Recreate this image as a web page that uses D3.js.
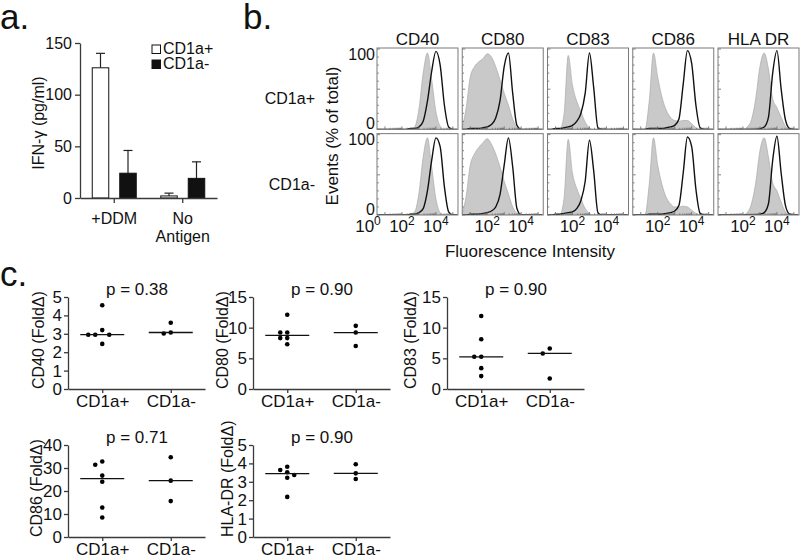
<!DOCTYPE html>
<html><head><meta charset="utf-8">
<script src="https://cdn.jsdelivr.net/npm/d3@7"></script>
<style>
body{margin:0;background:#fff}
svg{display:block}
text{font-family:"Liberation Sans",Arial,Helvetica,sans-serif;fill:#111}
</style>
</head><body>
<svg id="c" width="800" height="559"></svg>
<script>
// ---------------- DATA ----------------
// Panel a
const ifnGroups = ["+DDM", "No Antigen"];
const ifnSeries = ["CD1a+", "CD1a-"];
const ifnPosMean = [126, 2];
const ifnPosErr  = [14, 2.7];
const ifnNegMean = [24, 19];
const ifnNegErr  = [22, 16];
const ifnTicks = [0, 50, 100, 150];

// Panel b
const histMarkers = ["CD40", "CD80", "CD83", "CD86", "HLA DR"];
const histRows = ["CD1a+", "CD1a-"];
const histLogBins = [0.5,0.75,1,1.25,1.5,1.75,2,2.25,2.5,2.75,3,3.25,3.5,3.75,4,4.25,4.5,4.75,5,5.25];
const histYTicks = [0, 100];
const histGrayRow1 = [
  [0,0,0,0,0,0,0,0,0,3,25,70,95,62,22,4,0,0,0,0],
  [0,25,65,78,84,88,94,90,78,62,45,30,13,2,0,0,0,0,0,0],
  [0,0,0,0,18,92,55,35,22,9,2,0,0,0,0,0,0,0,0,0],
  [0,0,0,0,35,95,65,40,24,15,11,10,11,11,7,2,0,0,0,0],
  [0,0,0,0,0,0,0,3,12,38,78,95,75,38,27,15,4,0,0,0]
];
const histBlackRow1 = [
  [0,0,0,0,0,0,0,0,1,1,3,10,35,72,97,80,30,3,0,0],
  [0,0,1,1,1,2,3,6,14,35,78,95,45,5,0,0,0,0,0,0],
  [0,0,1,1,2,3,5,10,20,45,95,52,2,0,0,0,0,0,0,0],
  [0,0,0,0,1,1,1,1,2,3,5,13,56,98,82,30,2,0,0,0],
  [0,0,0,0,0,0,0,0,0,0,1,3,15,70,98,50,12,1,0,0]
];
const histGrayRow2 = [
  [0,0,0,0,0,0,0,0,1,4,27,72,96,60,20,3,0,0,0,0],
  [0,22,62,76,84,90,95,88,76,60,42,26,10,2,0,0,0,0,0,0],
  [0,0,0,0,20,94,52,33,20,8,2,0,0,0,0,0,0,0,0,0],
  [0,0,0,0,38,96,62,38,22,14,10,10,11,10,6,2,0,0,0,0],
  [0,0,0,0,0,0,0,3,14,40,80,96,72,40,30,16,4,0,0,0]
];
const histBlackRow2 = [
  [0,0,0,0,0,0,0,0,1,1,3,8,30,68,96,85,35,4,0,0],
  [0,0,1,1,1,2,3,5,10,25,62,96,60,8,0,0,0,0,0,0],
  [0,0,1,1,2,3,4,8,18,42,93,55,3,0,0,0,0,0,0,0],
  [0,0,0,0,1,1,1,1,2,3,5,12,52,97,85,32,2,0,0,0],
  [0,0,0,0,0,0,0,0,0,0,1,3,14,68,98,52,12,1,0,0]
];

// Panel c
const dotGroups = ["CD1a+", "CD1a-"];
const cd40Pos = [4.55, 3.2, 2.95, 2.95, 2.95, 2.45];
const cd40Neg = [3.6, 3.07, 3.02];
const cd80Pos = [12.1, 9.2, 9.2, 8.3, 8.3, 7.3];
const cd80Neg = [10.3, 9.2, 7.0];
const cd83Pos = [11.9, 8.1, 5.25, 5.25, 3.4, 2.1];
const cd83Neg = [6.6, 5.8, 1.7];
const cd86Pos = [32.8, 31.4, 26.7, 24.0, 12.8, 8.5];
const cd86Neg = [34.7, 24.5, 15.6];
const hlaPos = [3.82, 3.64, 3.52, 3.37, 3.22, 2.18];
const hlaNeg = [3.95, 3.46, 3.15];
const cd40Ticks = [0,1,2,3,4,5];
const cd80Ticks = [0,5,10,15];
const cd83Ticks = [0,5,10,15];
const cd86Ticks = [0,10,20,30,40];
const hlaTicks = [0,1,2,3,4,5];
const pValues = ["0.38", "0.90", "0.90", "0.71", "0.90"];

// ---------------- DRAW ----------------
const FF = '"Liberation Sans",Arial,Helvetica,sans-serif';
const svg = d3.select("#c");
const AX = "#3a3a3a";

function styleAxis(g, fs) {
  g.attr("font-family", FF);
  g.select(".domain").attr("stroke", AX).attr("stroke-width", 1.3);
  g.selectAll(".tick line").attr("stroke", AX).attr("stroke-width", 1.3);
  g.selectAll(".tick text").attr("font-size", fs || 16).attr("fill", "#111");
}

// panel letters
[["a.", 0, 29], ["b.", 243, 29], ["c.", 0, 286]].forEach(d => {
  svg.append("text").attr("x", d[1]).attr("y", d[2]).attr("font-size", 35).text(d[0]);
});

// ---------- Panel a ----------
{
  const g = svg.append("g");
  const y = d3.scaleLinear().domain([0, 150]).range([198, 43]);
  const x = d3.scaleBand().domain(ifnGroups).range([80, 217]);
  const xi = d3.scaleBand().domain(ifnSeries).range([-22, 22]).paddingInner(0.4);
  const means = [ifnPosMean, ifnNegMean];
  const errs = [ifnPosErr, ifnNegErr];
  const fills = ["#fff", "#111"];

  ifnSeries.forEach((s, si) => {
    ifnGroups.forEach((grp, gi) => {
      const cx = x(grp) + x.bandwidth() / 2 + xi(s);
      const v = means[si][gi], e = errs[si][gi];
      const mid = cx + xi.bandwidth() / 2;
      g.append("line").attr("x1", mid).attr("x2", mid).attr("y1", y(v)).attr("y2", y(v + e))
        .attr("stroke", "#222").attr("stroke-width", 1.2);
      g.append("line").attr("x1", mid - 4.5).attr("x2", mid + 4.5).attr("y1", y(v + e)).attr("y2", y(v + e))
        .attr("stroke", "#222").attr("stroke-width", 1.2);
      g.append("rect").attr("x", cx).attr("width", xi.bandwidth())
        .attr("y", y(v)).attr("height", y(0) - y(v))
        .attr("fill", fills[si]).attr("stroke", "#111").attr("stroke-width", 1);
    });
  });

  g.append("g").attr("transform", "translate(80,0)")
    .call(d3.axisLeft(y).tickValues(ifnTicks).tickSize(5).tickSizeOuter(0).tickPadding(3))
    .call(a => styleAxis(a, 16));
  g.append("g").attr("transform", "translate(0,198)")
    .call(d3.axisBottom(x).tickSize(5).tickSizeOuter(0).tickFormat(""))
    .call(a => styleAxis(a, 16));

  ifnGroups.forEach(grp => {
    const cx = x(grp) + x.bandwidth() / 2;
    const words = grp === "No Antigen" ? ["No", "Antigen"] : [grp];
    const t = g.append("text").attr("text-anchor", "middle").attr("font-size", 16);
    words.forEach((w, i) => t.append("tspan").attr("x", cx).attr("y", 224 + i * 18).text(w));
  });

  g.append("text").attr("transform", "translate(38,123) rotate(-90)")
    .attr("text-anchor", "middle").attr("dy", "0.35em").attr("font-size", 16).text("IFN-γ (pg/ml)");

  ifnSeries.forEach((s, si) => {
    g.append("rect").attr("x", 152).attr("y", 45 + si * 15).attr("width", 8.5).attr("height", 8.5)
      .attr("fill", fills[si]).attr("stroke", "#111").attr("stroke-width", 1);
    g.append("text").attr("x", 163).attr("y", 54 + si * 15).attr("font-size", 16).text(s);
  });
}

// ---------- Panel b ----------
{
  const g = svg.append("g");
  const px = d3.scaleBand().domain(histMarkers).range([377, 799]).paddingInner(0.05);
  const py = d3.scaleBand().domain(histRows).range([48, 215]).paddingInner(0.05);
  const grays = [histGrayRow1, histGrayRow2];
  const blacks = [histBlackRow1, histBlackRow2];

  histRows.forEach((row, ri) => {
    const top = py(row), bot = py(row) + py.bandwidth();
    const y = d3.scaleLinear().domain([0, 100]).range([bot, top + 1]);
    histMarkers.forEach((m, mi) => {
      const left = px(m), right = px(m) + px.bandwidth();
      const x = d3.scaleLog().domain([Math.pow(10, 0.53), Math.pow(10, 5.3)]).range([left, right]);
      const cid = "clip" + ri + "_" + mi;
      g.append("clipPath").attr("id", cid).append("rect")
        .attr("x", left).attr("y", top).attr("width", right - left).attr("height", bot - top);
      const pg = g.append("g").attr("clip-path", "url(#" + cid + ")");
      const pts = histLogBins.map((b, i) => [Math.pow(10, b), grays[ri][mi][i]]);
      const ptsB = histLogBins.map((b, i) => [Math.pow(10, b), blacks[ri][mi][i]]);
      pg.append("path").datum(pts)
        .attr("d", d3.area().x(d => x(d[0])).y0(bot).y1(d => y(d[1])).curve(d3.curveMonotoneX))
        .attr("fill", "#c9c9c9").attr("stroke", "#a9a9a9").attr("stroke-width", 0.7);
      pg.append("path").datum(ptsB)
        .attr("d", d3.line().x(d => x(d[0])).y(d => y(d[1])).curve(d3.curveMonotoneX))
        .attr("fill", "none").attr("stroke", "#111").attr("stroke-width", 1.4);

      const tg = g.append("g").attr("stroke", "#666").attr("stroke-width", 0.8);
      d3.range(0, 101, 10).forEach(v => {
        tg.append("line").attr("x1", left).attr("x2", left + (v % 50 === 0 ? 3 : 1.8))
          .attr("y1", y(v)).attr("y2", y(v));
      });
      [1, 2, 3, 4, 5].forEach(dec => {
        [1, 2, 3, 4, 5, 6, 7, 8, 9].forEach(k => {
          const v = k * Math.pow(10, dec);
          if (v < x.domain()[0] || v > x.domain()[1]) return;
          const xx = x(v);
          tg.append("line").attr("x1", xx).attr("x2", xx).attr("y1", bot).attr("y2", bot - (k === 1 ? 3 : 1.6));
        });
      });

      g.append("rect").attr("x", left).attr("y", top).attr("width", right - left).attr("height", bot - top)
        .attr("fill", "none").attr("stroke", "#7a7a7a").attr("stroke-width", 1);

      if (ri === 0) {
        g.append("text").attr("x", (left + right) / 2).attr("y", 45).attr("text-anchor", "middle")
          .attr("font-size", 17).text(m);
      }
      if (ri === histRows.length - 1) {
        const decs = mi === 0 ? [0, 2, 4] : [2, 4];
        decs.forEach(dd => {
          const t = g.append("text").attr("x", x(Math.pow(10, dd))).attr("y", 232)
            .attr("text-anchor", "middle").attr("font-size", 17);
          t.append("tspan").text("10");
          t.append("tspan").attr("dy", -7).attr("font-size", 12).text(dd);
        });
      }
    });
    g.append("text").attr("x", 375).attr("y", top + 6).attr("dy", "0.35em").attr("text-anchor", "end")
      .attr("font-size", 16).text(histYTicks[1]);
    g.append("text").attr("x", 375).attr("y", bot - 6).attr("dy", "0.35em").attr("text-anchor", "end")
      .attr("font-size", 16).text(histYTicks[0]);
    g.append("text").attr("x", 315).attr("y", (top + bot) / 2 + 10).attr("dy", "0.35em")
      .attr("text-anchor", "end").attr("font-size", 16).text(row);
  });

  g.append("text").attr("transform", "translate(332,136) rotate(-90)").attr("text-anchor", "middle")
    .attr("dy", "0.35em").attr("font-size", 17).text("Events (% of total)");
  g.append("text").attr("x", 530).attr("y", 257).attr("text-anchor", "middle")
    .attr("font-size", 17).text("Fluorescence Intensity");
}

// ---------- Panel c ----------
{
  const plots = [
    {label: "CD40 (FoldΔ)", pos: cd40Pos, neg: cd40Neg, ticks: cd40Ticks, p: pValues[0], x0: 68, yTop: 297, yBot: 389, lx: 38},
    {label: "CD80 (FoldΔ)", pos: cd80Pos, neg: cd80Neg, ticks: cd80Ticks, p: pValues[1], x0: 253, yTop: 297, yBot: 389, lx: 222},
    {label: "CD83 (FoldΔ)", pos: cd83Pos, neg: cd83Neg, ticks: cd83Ticks, p: pValues[2], x0: 447, yTop: 297, yBot: 389, lx: 410},
    {label: "CD86 (FoldΔ)", pos: cd86Pos, neg: cd86Neg, ticks: cd86Ticks, p: pValues[3], x0: 68, yTop: 445, yBot: 537, lx: 36},
    {label: "HLA-DR (FoldΔ)", pos: hlaPos, neg: hlaNeg, ticks: hlaTicks, p: pValues[4], x0: 253, yTop: 445, yBot: 537, lx: 227}
  ];

  plots.forEach(P => {
    const g = svg.append("g");
    const y = d3.scaleLinear().domain([0, d3.max(P.ticks)]).range([P.yBot, P.yTop]);
    const x = d3.scalePoint().domain(dotGroups).range([P.x0, P.x0 + 137]).padding(0.5);

    g.append("g").attr("transform", "translate(" + P.x0 + ",0)")
      .call(d3.axisLeft(y).tickValues(P.ticks).tickFormat(d3.format("d")).tickSize(4).tickSizeOuter(0).tickPadding(2))
      .call(a => styleAxis(a, 17));
    g.append("g").attr("transform", "translate(0," + P.yBot + ")")
      .call(d3.axisBottom(x).tickSize(4).tickSizeOuter(0).tickPadding(2))
      .call(a => styleAxis(a, 17));

    [P.pos, P.neg].forEach((vals, gi) => {
      const cx = x(dotGroups[gi]);
      const placed = [];
      vals.slice().sort((a, b) => b - a).forEach(v => {
        const yy = y(v);
        const cands = [0, -7, 7, -14, 14];
        let off = 0;
        for (const c of cands) {
          if (!placed.some(p => Math.abs(p[1] - yy) < 5.5 && Math.abs(p[0] - c) < 6)) { off = c; break; }
        }
        placed.push([off, yy]);
      });
      placed.forEach(p => {
        g.append("circle").attr("cx", cx + p[0]).attr("cy", p[1]).attr("r", 2.3).attr("fill", "#000");
      });
      const med = d3.median(vals);
      g.append("line").attr("x1", cx - 22).attr("x2", cx + 22).attr("y1", y(med)).attr("y2", y(med))
        .attr("stroke", "#111").attr("stroke-width", 1.3);
    });

    g.append("text").attr("x", P.x0 + 69).attr("y", P.yTop - 2).attr("text-anchor", "middle")
      .attr("font-size", 17).text("p = " + P.p);
    g.append("text").attr("transform", "translate(" + P.lx + "," + P.yBot + ") rotate(-90)")
      .attr("text-anchor", "start").attr("dy", "0.35em").attr("font-size", 16).text(P.label);
  });
}
</script>
</body></html>
